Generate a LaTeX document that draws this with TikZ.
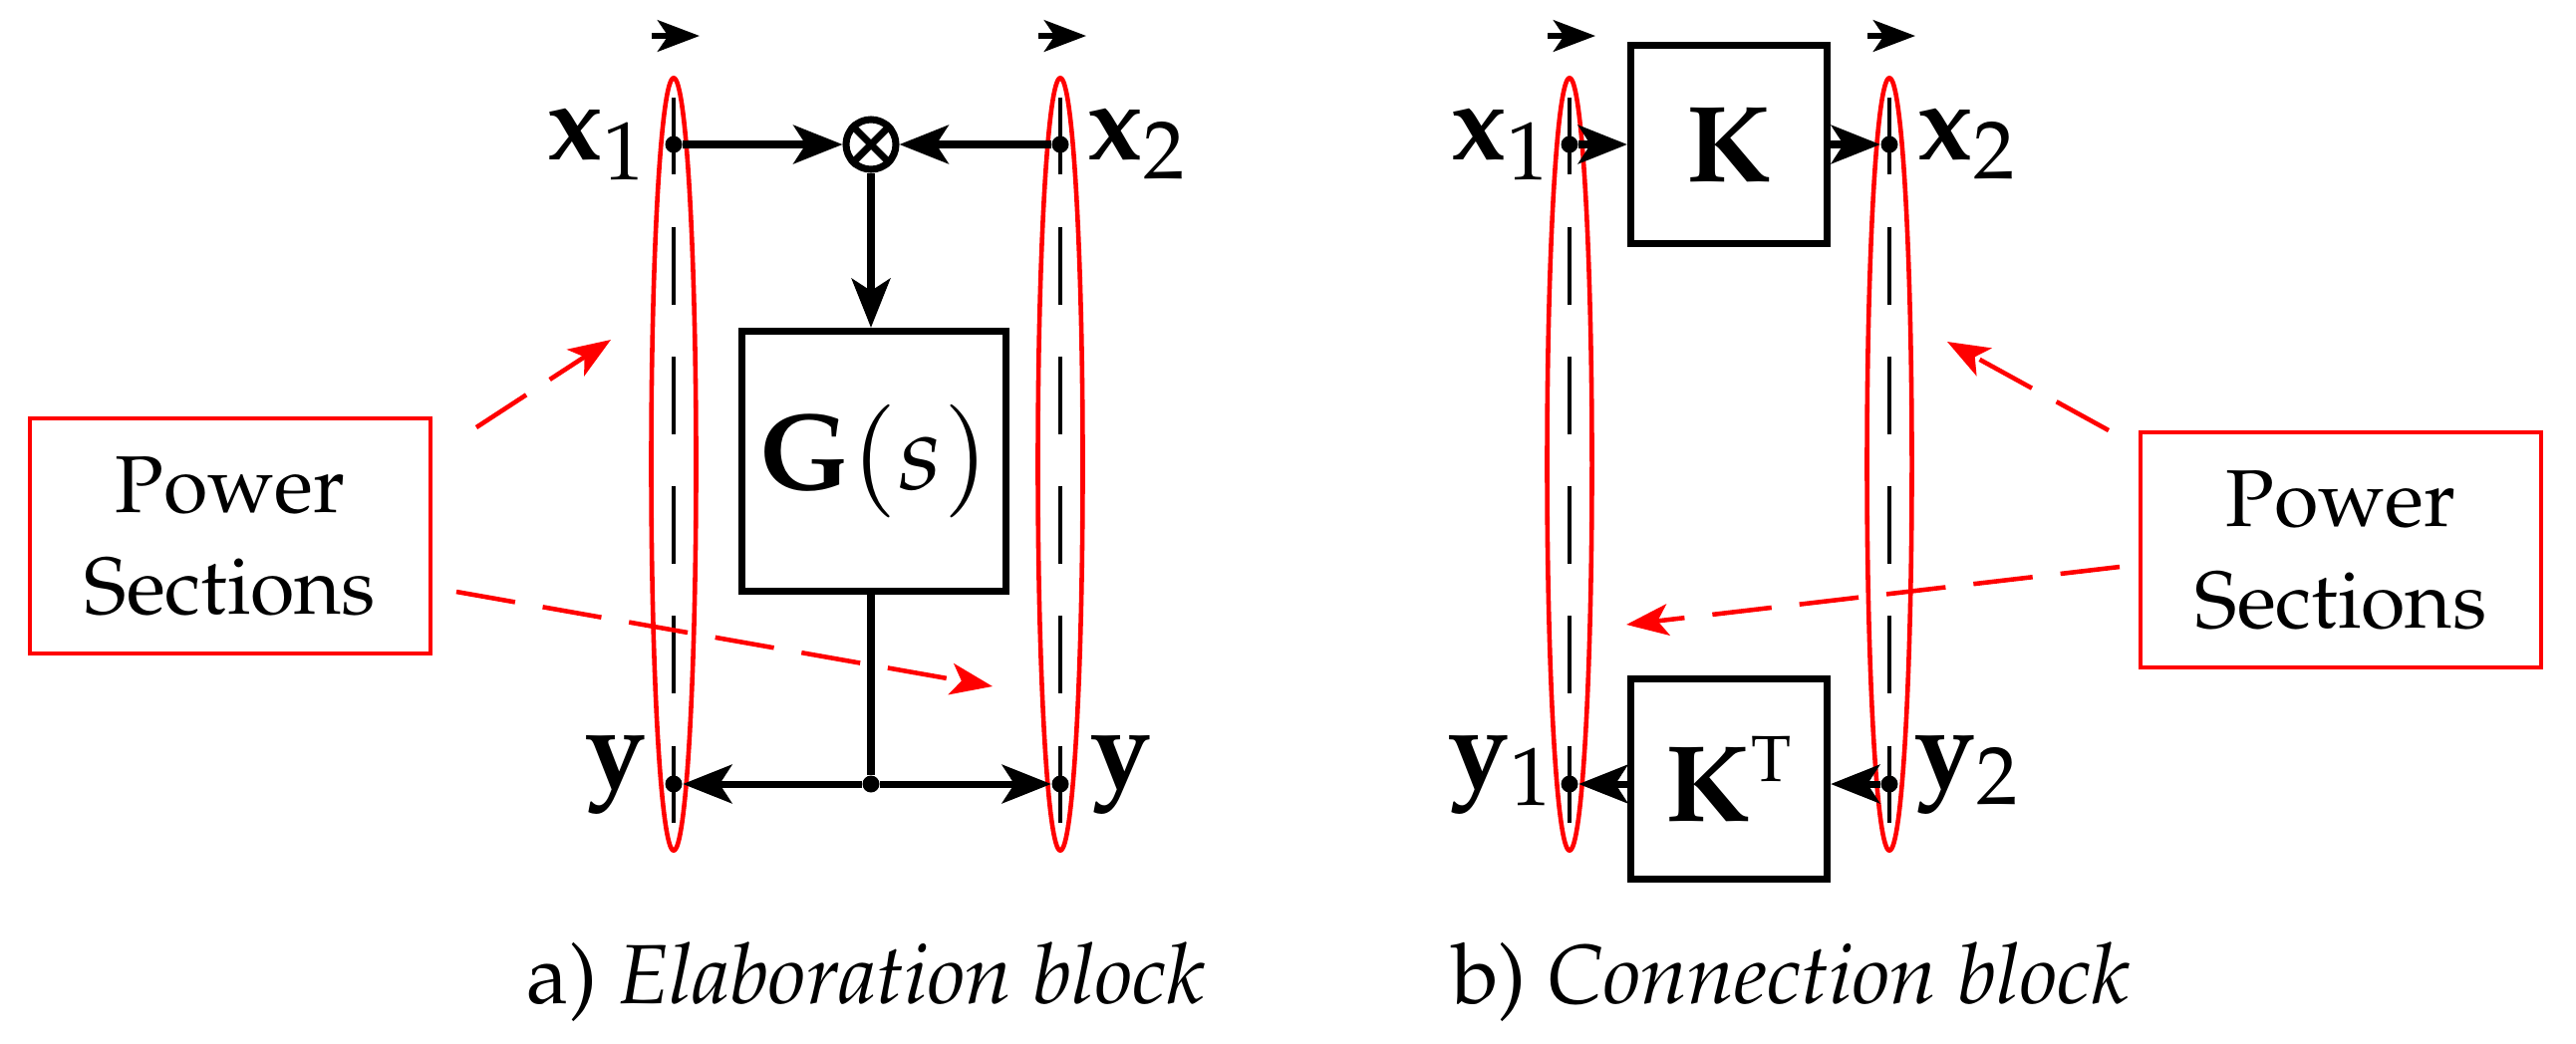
\documentclass[tikz,border=0pt]{standalone}
\usepackage[T1]{fontenc}
\usepackage{mathpazo}
\usetikzlibrary{arrows.meta,shapes.geometric}
\begin{document}
\begin{tikzpicture}[x=0.01cm,y=-0.01cm,
  sig/.style={line width=2pt,-{Stealth[length=14pt,width=11pt,inset=3.5pt]}},
  sec/.style={draw=red,line width=1.3pt,ellipse,minimum width=0.45cm,minimum height=7.75cm,inner sep=0},
  dsh/.style={line width=1pt,dash pattern=on 22pt off 15pt},
  dot/.style={circle,fill,inner sep=0,minimum size=0.17cm},
  blk/.style={draw,line width=2pt,inner sep=0},
  lab/.style={font=\fontsize{31}{36}\selectfont},
  ps/.style={draw=red,line width=1.3pt,align=center,font=\fontsize{23}{29}\selectfont,minimum width=4.02cm,minimum height=2.36cm},
  rar/.style={red,line width=1.3pt,dash pattern=on 17pt off 8pt,-{Stealth[length=12pt,width=9pt,inset=3pt]}},
  top/.style={line width=1.5pt,-{Stealth[length=12pt,width=9pt,inset=3pt]}}]
\useasboundingbox (0,0) rectangle (2585,1047);
\foreach \n/\x in {A/676,B/1064,C/1575,D/1896}{
  \node[sec] (e\n) at (\x,466) {};
  \draw[dsh] (\x,98) -- (\x,835);
  \node[dot] (t\n) at (\x,145) {};
  \node[dot] (b\n) at (\x,787) {};
  \coordinate (ta\n) at (\x-22,36); \coordinate (tb\n) at (\x+26,36);
  \draw[top] (ta\n) -- (tb\n);
}
% panel a
\node[circle,draw,line width=2pt,minimum size=0.5cm,inner sep=0] (m) at (874,145) {};
\draw[line width=2pt] (m.north west) -- (m.south east) (m.north east) -- (m.south west);
\node[blk,minimum width=2.64cm,minimum height=2.61cm] (G) at (877,463) {\fontsize{31}{36}\selectfont$\mathbf{G}(s)$};
\node[dot] (j) at (874,787) {};
\draw[sig] (tA) -- (m);
\draw[sig] (tB) -- (m);
\draw[sig] (m) -- (m|-G.north);
\draw[line width=2pt] (G.south-|j) -- (j);
\draw[sig] (j) -- (bA);
\draw[sig] (j) -- (bB);
\node[lab] (x1a) at (598,145) {$\mathbf{x}_1$};
\node[lab] (x2a) at (1140,145) {$\mathbf{x}_2$};
\node[lab] (ya) at (618,778) {$\mathbf{y}$};
\node[lab] (yb) at (1125,778) {$\mathbf{y}$};
\node[ps] (psA) at (231,538) {Power\\Sections};
\coordinate (a1) at (613,341); \coordinate (a2) at (996,689);
\coordinate (s1) at (478,429); \coordinate (s2) at (458,594);
\draw[rar] (s1) -- (a1);
\draw[rar] (s2) -- (a2);
\node[font=\fontsize{24}{30}\selectfont] (capa) at (869,986) {a) \textit{Elaboration block}};
% panel b
\node[blk,minimum width=1.97cm,minimum height=1.99cm] (K) at (1735,145) {\fontsize{31}{36}\selectfont$\mathbf{K}$};
\node[blk,minimum width=1.97cm,minimum height=2.01cm] (KT) at (1735,782) {\fontsize{31}{36}\selectfont$\mathbf{K}^{\scriptscriptstyle\mathrm{T}}$};
\draw[sig] (tC) -- (K.west|-tC);
\draw[sig] (K.east|-tD) -- (tD);
\draw[sig] (bD) -- (KT.east|-bD);
\draw[sig] (KT.west|-bC) -- (bC);
\node[lab] (x1b) at (1505,145) {$\mathbf{x}_1$};
\node[lab] (x2b) at (1973,145) {$\mathbf{x}_2$};
\node[lab] (y1b) at (1505,778) {$\mathbf{y}_1$};
\node[lab] (y2b) at (1973,778) {$\mathbf{y}_2$};
\node[ps] (psB) at (2349,552) {Power\\Sections};
\coordinate (c1) at (1954,343); \coordinate (c2) at (1632,627);
\coordinate (d1) at (2116,432); \coordinate (d2) at (2127,569);
\draw[rar] (d1) -- (c1);
\draw[rar] (d2) -- (c2);
\node[font=\fontsize{24}{30}\selectfont] (capb) at (1797,986) {b) \textit{Connection block}};
\end{tikzpicture}
\end{document}
